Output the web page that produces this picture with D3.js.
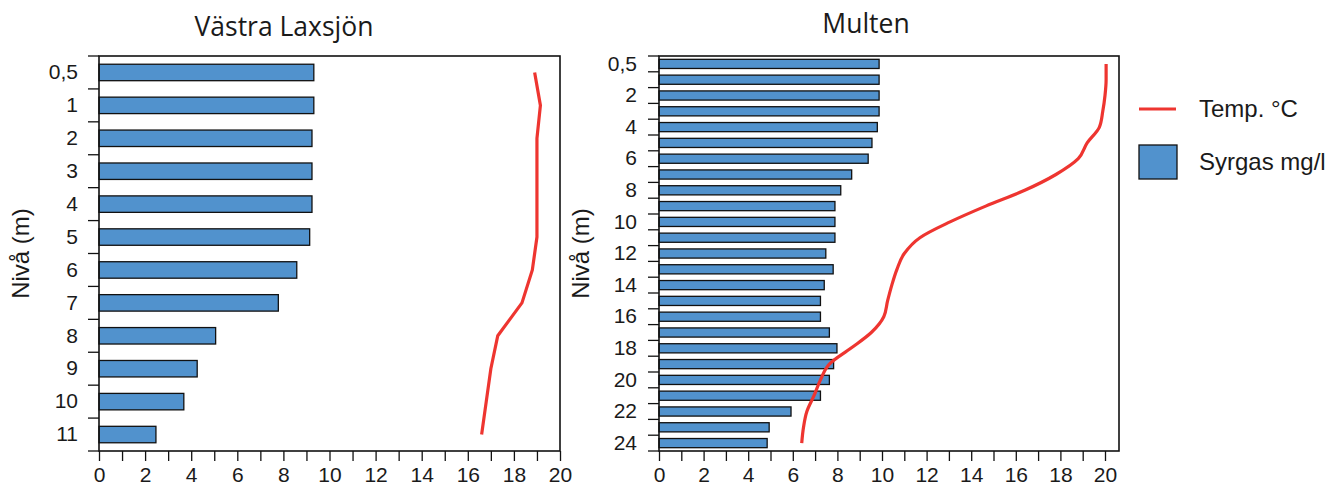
<!DOCTYPE html>
<html>
<head>
<meta charset="utf-8">
<script src="https://cdn.jsdelivr.net/npm/d3@7"></script>
<style>
  body { margin: 0; background: #fff; }
  text { font-family: "Liberation Sans", Arial, sans-serif; fill: #1a1a1a; }
  .title { font-family: "Open Sans", sans-serif; font-size: 26.5px; }
</style>
</head>
<body>
<svg id="chart" width="1339" height="486"></svg>
<script>
// Västra Laxsjön
var laxDepths = ["0,5", "1", "2", "3", "4", "5", "6", "7", "8", "9", "10", "11"];
var laxOxygen = [9.32, 9.32, 9.24, 9.24, 9.24, 9.14, 8.58, 7.78, 5.06, 4.26, 3.68, 2.47];
var laxTemp = [18.9, 19.15, 19.0, 19.0, 19.0, 19.0, 18.8, 18.35, 17.3, 17.0, 16.8, 16.6];

// Multen
var multenDepths = ["0,5", "1", "2", "3", "4", "5", "6", "7", "8", "9", "10", "11", "12",
                    "13", "14", "15", "16", "17", "18", "19", "20", "21", "22", "23", "24"];
var multenOxygen = [9.87, 9.87, 9.87, 9.87, 9.79, 9.55, 9.38, 8.64, 8.15, 7.89, 7.89, 7.89, 7.48,
                    7.81, 7.41, 7.24, 7.24, 7.64, 7.98, 7.83, 7.64, 7.24, 5.92, 4.94, 4.85];
var multenTemp = [20.05, 20.05, 20.0, 19.9, 19.75, 19.2, 18.8, 17.8, 16.4, 14.65, 13.05, 11.7, 11.0,
                  10.67, 10.44, 10.25, 10.08, 9.52, 8.6, 7.64, 7.24, 6.95, 6.63, 6.48, 6.4];
var multenLabels = ["0,5", "2", "4", "6", "8", "10", "12", "14", "16", "18", "20", "22", "24"];

var xTicks = [0, 2, 4, 6, 8, 10, 12, 14, 16, 18, 20];
var legendNames = ["Temp. °C", "Syrgas mg/l"];

var barColor = "#5192cd";
var lineColor = "#ee3530";

var svg = d3.select("#chart");

function drawPanel(p) {
    var g = svg.append("g").attr("transform", "translate(" + p.left + "," + p.top + ")");

    var x = d3.scaleLinear().domain([0, 20]).range([0, p.xEnd]);
    var y = d3.scaleBand().domain(p.depths).range([0, p.height]).paddingInner(p.pad).paddingOuter(p.pad / 2);

    // bars
    g.selectAll(".bar").data(p.oxygen).enter().append("rect")
        .attr("x", 0)
        .attr("y", function(d, i) { return y(p.depths[i]); })
        .attr("width", function(d) { return x(d); })
        .attr("height", y.bandwidth())
        .attr("fill", barColor)
        .attr("stroke", "#111")
        .attr("stroke-width", 1.3);

    // temperature line
    var line = d3.line()
        .x(function(d) { return x(d); })
        .y(function(d, i) { return y(p.depths[i]) + y.bandwidth() / 2; })
        .curve(p.curve);
    g.append("path").datum(p.temp)
        .attr("d", line)
        .attr("fill", "none")
        .attr("stroke", lineColor)
        .attr("stroke-width", 3.2);

    // frame
    g.append("rect").attr("width", p.width).attr("height", p.height)
        .attr("fill", "none").attr("stroke", "#111").attr("stroke-width", 1.6);

    // x axis
    var xAxis = g.append("g").attr("transform", "translate(0," + p.height + ")")
        .call(d3.axisBottom(x).tickValues(d3.range(0, 21)).tickSize(10).tickPadding(6)
            .tickFormat(function(d) { return xTicks.indexOf(d) >= 0 ? d : ""; }));
    xAxis.select(".domain").remove();
    xAxis.selectAll("line").attr("stroke", "#111").attr("stroke-width", 1.3);
    xAxis.selectAll("text").style("font-size", "21px").attr("fill", "#1a1a1a")
        .style("font-family", '"Liberation Sans", Arial, sans-serif');

    // y axis labels at band centres, ticks at band edges
    var yAxis = g.append("g")
        .call(d3.axisLeft(y).tickSize(0).tickPadding(p.labelPad)
            .tickFormat(function(d) { return p.labels.indexOf(d) >= 0 ? d : ""; }));
    yAxis.select(".domain").remove();
    yAxis.selectAll("text").style("font-size", "21px").attr("fill", "#1a1a1a")
        .style("font-family", '"Liberation Sans", Arial, sans-serif');

    var edges = d3.range(p.depths.length + 1).map(function(i) { return i * y.step(); });
    g.selectAll(".ytick").data(edges).enter().append("line")
        .attr("x1", -11).attr("x2", 0)
        .attr("y1", function(d) { return d; }).attr("y2", function(d) { return d; })
        .attr("stroke", "#111").attr("stroke-width", 1.3);

    // titles
    svg.append("text").attr("class", "title")
        .attr("x", p.titleX).attr("y", p.titleY)
        .attr("text-anchor", "middle").text(p.title);
    svg.append("text")
        .attr("transform", "translate(" + p.yTitleX + "," + (p.top + p.height / 2) + ") rotate(-90)")
        .attr("text-anchor", "middle")
        .style("font-size", "24px")
        .text("Nivå (m)");
}

drawPanel({
    title: "Västra Laxsjön", titleX: 284, titleY: 36, yTitleX: 29,
    left: 99, top: 56, width: 461, height: 395, xEnd: 461,
    depths: laxDepths, oxygen: laxOxygen, temp: laxTemp, labels: laxDepths,
    pad: 0.5, labelPad: 21, curve: d3.curveLinear
});

drawPanel({
    title: "Multen", titleX: 866, titleY: 33, yTitleX: 589,
    left: 659, top: 56, width: 460, height: 395, xEnd: 446,
    depths: multenDepths, oxygen: multenOxygen, temp: multenTemp, labels: multenLabels,
    pad: 0.42, labelPad: 22, curve: d3.curveMonotoneY
});

// legend
var legend = svg.append("g").attr("transform", "translate(1139,0)");
legend.append("line").attr("x1", 0).attr("x2", 37).attr("y1", 109).attr("y2", 109)
    .attr("stroke", lineColor).attr("stroke-width", 3.2);
legend.append("rect").attr("x", 0).attr("y", 145).attr("width", 38).attr("height", 34)
    .attr("fill", barColor).attr("stroke", "#111").attr("stroke-width", 1.3);
legend.selectAll(".ltext").data(legendNames).enter().append("text")
    .attr("x", 60)
    .attr("y", function(d, i) { return i === 0 ? 117 : 170; })
    .style("font-size", "24px")
    .text(function(d) { return d; });
</script>
</body>
</html>
